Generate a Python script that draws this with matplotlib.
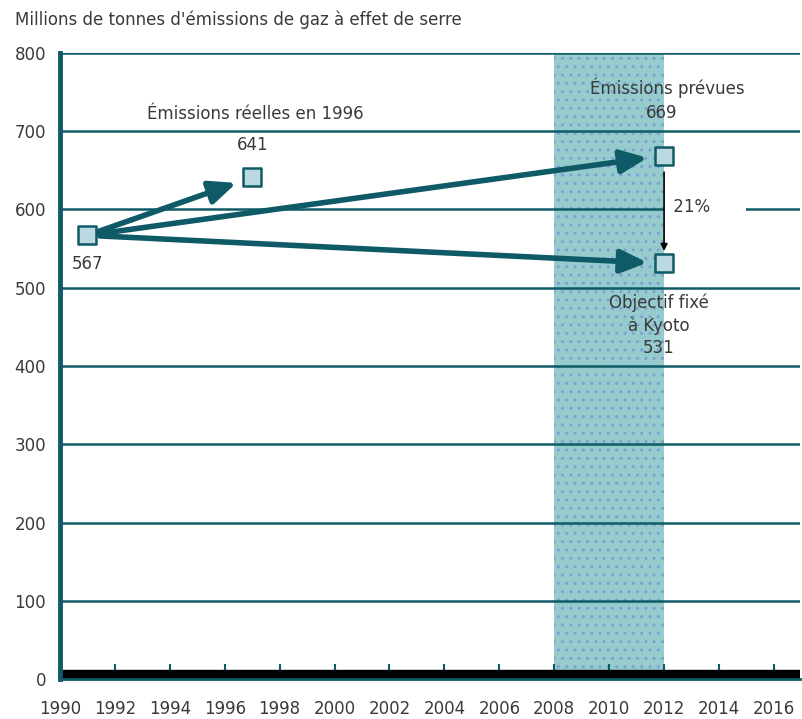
import matplotlib
matplotlib.use('Agg')
import matplotlib.pyplot as plt

# data
base_year, base_value = 1991, 567
real_year, real_value = 1997, 641
target_year = 2012
forecast_value = 669
kyoto_value = 531
kyoto_period = (2008, 2012)
reduction_label = '21%'

xticks = list(range(1990, 2017, 2))
yticks = list(range(0, 801, 100))

teal = '#0e5a66'
text_col = '#3a3a3a'
plt.rcParams['font.family'] = ['DejaVu Sans']

fig = plt.figure(figsize=(8.02, 7.19), dpi=100)
ax = fig.add_axes([0.0748, 0.0556, 0.9227, 0.8707])

ax.set_xlim(1990, 2016.95)
ax.set_ylim(0, 800)

# Kyoto commitment period shading
ax.axvspan(kyoto_period[0], kyoto_period[1], facecolor='#95cbcd', edgecolor='#7d9fd6',
           hatch='..', linewidth=0, zorder=0)

# horizontal grid
for y in yticks[1:]:
    ax.axhline(y, color=teal, lw=1.8, zorder=1)

# thick black baseline
ax.axhspan(0, 12, color='black', zorder=2)

for s in ['top', 'right']:
    ax.spines[s].set_visible(False)
ax.spines['left'].set_color(teal)
ax.spines['left'].set_linewidth(3.5)
ax.spines['bottom'].set_color(teal)
ax.spines['bottom'].set_linewidth(2)
ax.spines['left'].set_zorder(5)
ax.spines['bottom'].set_zorder(5)

ax.set_xticks(xticks)
ax.set_yticks(yticks)
ax.tick_params(axis='x', direction='in', length=11, width=1.5, color=teal,
               pad=15, labelsize=12, labelcolor=text_col)
ax.tick_params(axis='y', length=0, pad=10, labelsize=12, labelcolor=text_col)
for t in ax.xaxis.get_major_ticks():
    t.tick1line.set_zorder(6)

# arrows
arrow_kw = dict(arrowstyle='-|>,head_length=0.8,head_width=0.35', color=teal, lw=4,
                mutation_scale=20, shrinkA=9, shrinkB=12)
for tx, ty in [(real_year, real_value), (target_year, forecast_value),
               (target_year, kyoto_value)]:
    ax.annotate('', xy=(tx, ty), xytext=(base_year, base_value),
                arrowprops=arrow_kw, zorder=4)

# reduction arrow
ax.annotate('', xy=(target_year, kyoto_value), xytext=(target_year, forecast_value),
            arrowprops=dict(arrowstyle='-|>', color='black', lw=1.2,
                            mutation_scale=10, shrinkA=12, shrinkB=9), zorder=4)

# markers
ax.scatter([base_year, real_year, target_year, target_year],
           [base_value, real_value, forecast_value, kyoto_value],
           marker='s', s=160, facecolor='#bcd9e2', edgecolor=teal, linewidth=1.8,
           zorder=7)

# labels
fs = 12
ax.text(1997.1, 722, 'Émissions réelles en 1996', ha='center', va='center',
        fontsize=fs, color=text_col)
ax.text(real_year, 683, str(real_value), ha='center', va='center',
        fontsize=fs, color=text_col)
ax.text(base_year, 530, str(base_value), ha='center', va='center',
        fontsize=fs, color=text_col)
ax.text(2012.1, 755, 'Émissions prévues', ha='center', va='center',
        fontsize=fs, color=text_col)
ax.text(2011.9, 723, str(forecast_value), ha='center', va='center',
        fontsize=fs, color=text_col)
ax.text(2012.15, 603, ' ' + reduction_label + '      ', ha='left', va='center',
        fontsize=fs, color=text_col, zorder=3,
        bbox=dict(facecolor='white', edgecolor='none', pad=3))
ax.text(2011.8, 452, 'Objectif fixé\nà Kyoto\n' + str(kyoto_value), ha='center',
        va='center', fontsize=fs, color=text_col, linespacing=1.3)

fig.text(0.019, 0.973, "Millions de tonnes d'émissions de gaz à effet de serre",
         ha='left', va='center', fontsize=12, color=text_col)

fig.savefig('out.png', dpi=100)
